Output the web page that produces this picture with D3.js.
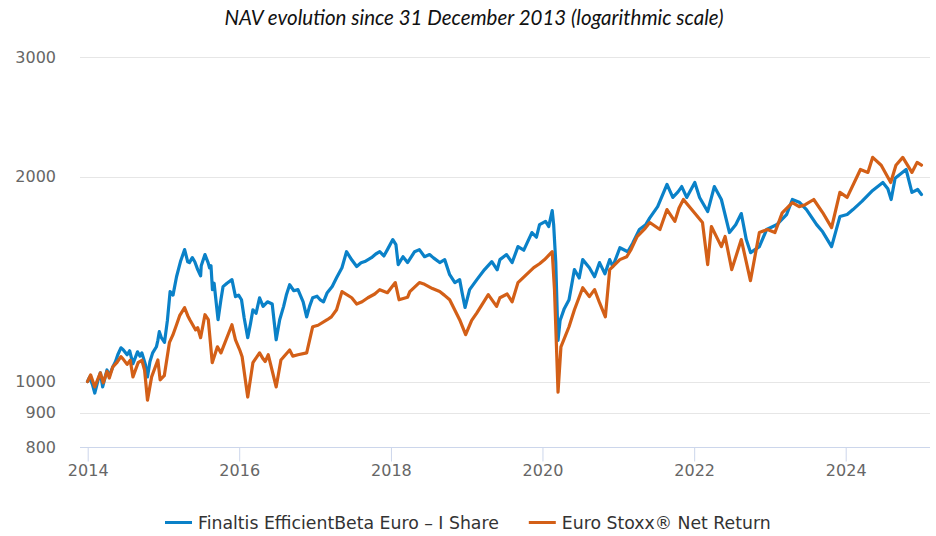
<!DOCTYPE html>
<html>
<head>
<meta charset="utf-8">
<script src="https://cdn.jsdelivr.net/npm/d3@7"></script>
<style>
    body { margin: 0; background: #fff; }
    svg { display: block; }
</style>
</head>
<body>
<div id="chart"></div>
<script>
// NAV data (date, value rebased to 1000)
var fundDates = ["2013-12-31","2014-01-10","2014-01-24","2014-02-04","2014-02-20","2014-03-03","2014-03-14","2014-04-04","2014-04-15","2014-05-02","2014-05-15","2014-05-26","2014-06-10","2014-06-20","2014-07-10","2014-07-22","2014-08-07","2014-08-29","2014-09-10","2014-09-19","2014-10-06","2014-10-16","2014-10-28","2014-11-10","2014-11-28","2014-12-05","2014-12-12","2014-12-22","2015-01-06","2015-01-20","2015-02-02","2015-02-16","2015-03-05","2015-03-24","2015-04-13","2015-04-28","2015-05-06","2015-05-20","2015-06-01","2015-06-15","2015-06-29","2015-07-02","2015-07-20","2015-08-04","2015-08-11","2015-08-18","2015-08-25","2015-09-02","2015-09-21","2015-10-05","2015-10-15","2015-11-03","2015-11-27","2015-12-14","2015-12-29","2016-01-12","2016-01-25","2016-02-11","2016-02-25","2016-03-07","2016-03-22","2016-04-08","2016-04-25","2016-05-16","2016-06-08","2016-06-27","2016-07-14","2016-08-02","2016-08-15","2016-08-31","2016-09-20","2016-10-10","2016-11-04","2016-11-21","2016-12-05","2016-12-20","2017-01-10","2017-01-24","2017-02-10","2017-02-28","2017-03-24","2017-04-14","2017-05-10","2017-06-01","2017-06-26","2017-07-20","2017-08-10","2017-08-28","2017-09-29","2017-10-20","2017-11-08","2017-11-28","2017-12-15","2018-01-10","2018-01-25","2018-02-05","2018-02-28","2018-03-22","2018-04-25","2018-05-18","2018-06-12","2018-07-06","2018-07-25","2018-08-24","2018-09-17","2018-10-11","2018-11-05","2018-11-28","2018-12-10","2018-12-24","2019-01-15","2019-02-19","2019-03-28","2019-05-02","2019-05-28","2019-06-10","2019-07-12","2019-08-08","2019-09-05","2019-10-03","2019-11-11","2019-12-03","2019-12-18","2020-01-16","2020-01-31","2020-02-17","2020-02-24","2020-03-05","2020-03-16","2020-03-26","2020-04-15","2020-05-08","2020-06-03","2020-06-26","2020-07-13","2020-08-14","2020-09-08","2020-10-02","2020-10-28","2020-11-20","2020-12-05","2021-01-08","2021-02-15","2021-03-10","2021-04-12","2021-05-12","2021-06-01","2021-07-09","2021-08-23","2021-09-20","2021-10-15","2021-11-02","2021-11-26","2022-01-04","2022-01-27","2022-03-07","2022-04-08","2022-05-12","2022-06-20","2022-07-20","2022-08-16","2022-09-09","2022-09-30","2022-11-11","2022-12-16","2023-02-02","2023-03-22","2023-04-19","2023-05-22","2023-06-26","2023-08-14","2023-09-12","2023-10-25","2023-12-04","2024-01-08","2024-02-05","2024-03-19","2024-05-10","2024-06-28","2024-07-22","2024-08-07","2024-08-26","2024-10-18","2024-11-15","2024-12-13","2024-12-31"];
var fundNav = [1000,1015,990,962,1005,1030,982,1040,1020,1051,1070,1095,1121,1115,1095,1110,1062,1106,1090,1102,1060,1016,1070,1102,1125,1150,1184,1160,1142,1230,1356,1340,1426,1501,1563,1500,1496,1521,1500,1461,1430,1480,1537,1496,1470,1480,1365,1395,1233,1320,1379,1395,1412,1333,1340,1319,1240,1160,1220,1275,1260,1328,1290,1310,1300,1152,1233,1290,1340,1388,1360,1365,1310,1245,1290,1328,1335,1320,1310,1351,1380,1421,1470,1552,1510,1476,1495,1501,1521,1540,1552,1530,1563,1617,1590,1486,1526,1496,1552,1563,1526,1537,1520,1496,1511,1436,1398,1412,1350,1285,1365,1412,1461,1501,1460,1511,1537,1496,1579,1560,1656,1630,1701,1720,1690,1784,1700,1500,1150,1230,1280,1319,1461,1420,1511,1470,1426,1496,1440,1511,1476,1573,1552,1596,1673,1700,1740,1808,1949,1865,1900,1935,1865,1962,1865,1778,1935,1852,1656,1700,1766,1617,1547,1579,1673,1700,1760,1852,1835,1790,1701,1660,1579,1748,1760,1790,1840,1910,1962,1920,1852,1990,2050,1897,1916,1884];

var indexDates = ["2013-12-31","2014-01-15","2014-02-04","2014-03-03","2014-03-17","2014-04-04","2014-04-15","2014-05-02","2014-05-20","2014-06-10","2014-06-20","2014-07-10","2014-07-25","2014-08-07","2014-09-01","2014-09-19","2014-10-02","2014-10-16","2014-11-05","2014-12-05","2014-12-16","2015-01-05","2015-01-30","2015-02-15","2015-03-05","2015-03-20","2015-04-13","2015-04-28","2015-05-08","2015-06-05","2015-06-15","2015-06-29","2015-07-20","2015-08-05","2015-08-24","2015-09-18","2015-10-05","2015-11-27","2015-12-14","2016-01-05","2016-01-15","2016-02-11","2016-03-07","2016-04-08","2016-04-25","2016-05-05","2016-05-20","2016-06-27","2016-07-20","2016-08-31","2016-09-15","2016-10-10","2016-11-21","2016-12-20","2017-01-15","2017-02-28","2017-03-20","2017-04-14","2017-05-10","2017-06-26","2017-07-20","2017-08-15","2017-09-12","2017-10-15","2017-11-08","2017-12-15","2018-01-22","2018-02-09","2018-03-22","2018-04-02","2018-05-18","2018-06-12","2018-07-20","2018-08-24","2018-09-15","2018-10-11","2018-11-28","2018-12-27","2019-01-25","2019-02-19","2019-04-15","2019-05-25","2019-06-10","2019-07-15","2019-08-08","2019-09-05","2019-11-20","2019-12-18","2020-01-10","2020-02-17","2020-02-28","2020-03-16","2020-03-30","2020-05-08","2020-06-03","2020-07-13","2020-08-14","2020-09-08","2020-10-02","2020-10-30","2020-11-20","2021-01-08","2021-02-10","2021-03-01","2021-04-01","2021-05-10","2021-06-01","2021-07-20","2021-08-23","2021-09-30","2021-10-20","2021-11-10","2021-12-20","2022-02-10","2022-03-07","2022-03-25","2022-05-12","2022-05-30","2022-07-01","2022-08-16","2022-09-29","2022-11-11","2022-12-20","2023-01-25","2023-03-01","2023-04-19","2023-05-22","2023-06-20","2023-07-31","2023-09-12","2023-10-25","2023-12-04","2024-01-08","2024-03-12","2024-04-17","2024-05-10","2024-06-20","2024-08-05","2024-08-30","2024-10-02","2024-11-15","2024-12-10","2024-12-31"];
var indexNav = [1000,1023,982,1030,996,1035,1012,1051,1065,1088,1080,1060,1075,1016,1066,1075,1040,939,1016,1076,1006,1020,1142,1170,1212,1250,1284,1250,1233,1191,1200,1160,1254,1233,1066,1125,1102,1212,1152,1110,1088,949,1066,1102,1080,1070,1095,982,1076,1113,1090,1095,1102,1204,1210,1233,1245,1275,1356,1328,1300,1310,1328,1345,1365,1351,1398,1319,1330,1356,1398,1390,1370,1356,1340,1319,1233,1172,1230,1262,1342,1290,1328,1345,1310,1398,1471,1490,1510,1552,1365,965,1125,1204,1275,1374,1333,1365,1306,1245,1461,1511,1526,1560,1634,1680,1713,1673,1790,1720,1800,1852,1790,1713,1486,1690,1579,1634,1461,1617,1407,1656,1673,1656,1770,1833,1808,1820,1852,1772,1684,1897,1865,2050,2030,2136,2080,1962,2080,2136,2030,2100,2080];

var seriesNames = ["Finaltis EfficientBeta Euro \u2013 I Share", "Euro Stoxx\u00ae Net Return"];
var seriesColors = ["#0a81c8", "#d35f17"];
var yTicks = [800, 900, 1000, 2000, 3000];
var yGrid = [900, 1000, 2000, 3000];
var xTickYears = [2014, 2016, 2018, 2020, 2022, 2024];

var totalWidth = 936,
    totalHeight = 536,
    plotLeft = 80,
    plotRight = 930,
    plotTop = 57,
    plotBottom = 447.5;

var parseDate = d3.utcParse("%Y-%m-%d");

function toPoints(dates, values) {
    return dates.map(function(d, i) {
        return [parseDate(d), values[i]];
    });
}

var series = [toPoints(fundDates, fundNav), toPoints(indexDates, indexNav)];

var xScale = d3.scaleUtc()
    .domain([Date.UTC(2014, 0, 1), Date.UTC(2024, 0, 1)])
    .range([87.7, 845.7]);

var yScale = d3.scaleLog()
    .domain([800, 3000])
    .range([plotBottom, plotTop]);

var svg = d3.select("#chart").append("svg")
    .attr("width", totalWidth)
    .attr("height", totalHeight);

// title
svg.append("text")
    .attr("x", totalWidth / 2 + 6)
    .attr("y", 25)
    .attr("text-anchor", "middle")
    .style("font-family", "Lato, 'Open Sans', sans-serif")
    .style("font-style", "italic")
    .style("font-size", "20.5px")
    .style("fill", "#111")
    .text("NAV evolution since 31 December 2013 (logarithmic scale)");

// horizontal grid
svg.append("g")
    .selectAll("line")
    .data(yGrid)
    .join("line")
    .attr("x1", plotLeft)
    .attr("x2", plotRight)
    .attr("y1", function(d) { return Math.round(yScale(d)) + 0.5; })
    .attr("y2", function(d) { return Math.round(yScale(d)) + 0.5; })
    .attr("stroke", "#e6e6e6")
    .attr("stroke-width", 1);

// y axis labels
var yAxis = d3.axisLeft(yScale)
    .tickValues(yTicks)
    .tickFormat(d3.format("d"))
    .tickSize(0)
    .tickPadding(0);

var gy = svg.append("g")
    .attr("transform", "translate(56,0)")
    .call(yAxis);
gy.select(".domain").remove();
gy.selectAll("text")
    .style("font-family", "'DejaVu Sans', sans-serif")
    .style("font-size", "16px")
    .style("fill", "#666");

// x axis
var xAxis = d3.axisBottom(xScale)
    .tickValues(xTickYears.map(function(y) { return new Date(Date.UTC(y, 0, 1)); }))
    .tickFormat(d3.utcFormat("%Y"))
    .tickSize(14)
    .tickPadding(3)
    .tickSizeOuter(0);

var gx = svg.append("g")
    .attr("transform", "translate(0," + plotBottom + ")")
    .call(xAxis);
gx.select(".domain")
    .attr("d", "M" + plotLeft + ",0H" + plotRight)
    .attr("stroke", "#ccd6eb");
gx.selectAll(".tick line").attr("stroke", "#ccd6eb");
gx.selectAll("text")
    .style("font-family", "'DejaVu Sans', sans-serif")
    .style("font-size", "16px")
    .style("fill", "#666");

// series lines
var line = d3.line()
    .x(function(d) { return xScale(d[0]); })
    .y(function(d) { return yScale(d[1]); });

svg.append("g")
    .selectAll("path")
    .data(series)
    .join("path")
    .attr("d", line)
    .attr("fill", "none")
    .attr("stroke", function(d, i) { return seriesColors[i]; })
    .attr("stroke-width", 3.2)
    .attr("stroke-linejoin", "round")
    .attr("stroke-linecap", "round");

// legend
var legend = svg.append("g");
var items = legend.selectAll("g")
    .data(seriesNames)
    .join("g");

items.append("line")
    .attr("x1", 0)
    .attr("x2", 27)
    .attr("y1", 0)
    .attr("y2", 0)
    .attr("stroke", function(d, i) { return seriesColors[i]; })
    .attr("stroke-width", 3);

items.append("text")
    .attr("x", 33)
    .attr("y", 6)
    .style("font-family", "'DejaVu Sans', sans-serif")
    .style("font-size", "17.3px")
    .style("fill", "#333")
    .text(function(d) { return d; });

var offset = 0, widths = [];
items.each(function() {
    widths.push(this.getBBox().width);
});
items.attr("transform", function(d, i) {
    var x = offset;
    offset += widths[i] + 30;
    return "translate(" + x + ",0)";
});
var legendWidth = offset - 30;
legend.attr("transform", "translate(" + Math.round(totalWidth / 2 - legendWidth / 2) + ",522.5)");
</script>
</body>
</html>
